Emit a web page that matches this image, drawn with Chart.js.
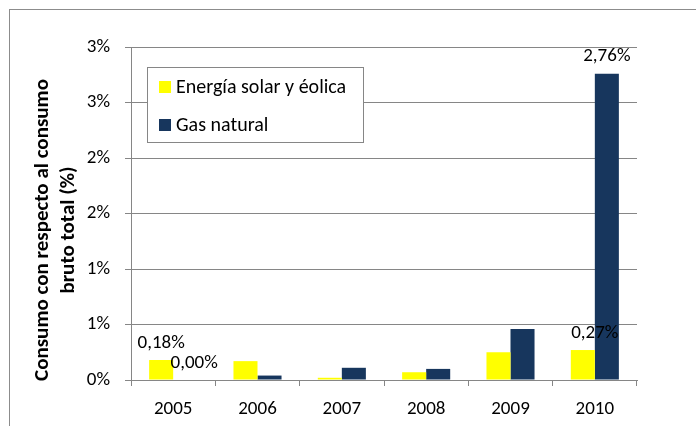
<!DOCTYPE html>
<html>
<head>
<meta charset="utf-8">
<script src="https://cdn.jsdelivr.net/npm/chart.js@4.4.0/dist/chart.umd.min.js"></script>
<style>
  html, body { margin: 0; padding: 0; background: #fff; overflow: hidden; }
  #marco { position: absolute; left: 9px; top: 9px; width: 720px; height: 440px; border: 1px solid #8c8c8c; }
  #grafico { position: absolute; left: 0; top: 0; }
</style>
</head>
<body>
<div id="marco"></div>
<canvas id="grafico" width="696" height="426"></canvas>
<script>
const anos = ["2005", "2006", "2007", "2008", "2009", "2010"];
const solarEolica = [0.18, 0.17, 0.02, 0.07, 0.25, 0.27];
const gasNatural = [0.00, 0.04, 0.11, 0.10, 0.46, 2.76];
const nombresSeries = ["Energía solar y éolica", "Gas natural"];
const ticksY = [0, 0.5, 1, 1.5, 2, 2.5, 3];
const tituloY = ["Consumo con respecto al consumo", "bruto total (%)"];
// etiquetas visibles: [serie, indice]
const etiquetas = [[0, 0], [1, 0], [0, 5], [1, 5]];

const fuente = "Carlito, 'Liberation Sans', Arial, sans-serif";
const gris = "#868686";

function formatoPct(v) {
    return v.toFixed(2).replace(".", ",") + "%";
}

const extras = {
    id: "extras",
    afterDatasetsDraw(chart) {
        const ctx = chart.ctx;
        // etiquetas de datos
        const desplaz = { "0,0": 0, "1,0": 9, "0,5": 12, "1,5": 0 };
        ctx.save();
        ctx.font = "19px " + fuente;
        ctx.fillStyle = "#000";
        ctx.textAlign = "center";
        ctx.textBaseline = "middle";
        etiquetas.forEach(([s, i]) => {
            const barra = chart.getDatasetMeta(s).data[i];
            const v = chart.data.datasets[s].data[i];
            ctx.fillText(formatoPct(v), barra.x + desplaz[s + "," + i], barra.y - 17);
        });

        // leyenda
        const lx = 147, ly = 67, lw = 216, lh = 75;
        ctx.fillStyle = "#fff";
        ctx.fillRect(lx, ly, lw, lh);
        ctx.strokeStyle = gris;
        ctx.lineWidth = 1;
        ctx.strokeRect(lx + 0.5, ly + 0.5, lw, lh);
        ctx.textAlign = "left";
        ctx.font = "20px " + fuente;
        chart.data.datasets.forEach((ds, k) => {
            const y = ly + 20 + k * 38;
            ctx.fillStyle = ds.backgroundColor;
            ctx.fillRect(lx + 12, y - 6, 12, 12);
            ctx.fillStyle = "#000";
            ctx.fillText(ds.label, lx + 29, y + 1);
        });

        // titulo eje Y
        ctx.font = "bold 21px " + fuente;
        ctx.textAlign = "center";
        ctx.textBaseline = "alphabetic";
        ctx.translate(0, 230);
        ctx.rotate(-Math.PI / 2);
        ctx.fillText(tituloY[0], 0, 48);
        ctx.fillText(tituloY[1], 0, 74);
        ctx.restore();
    }
};

new Chart(document.getElementById("grafico"), {
    type: "bar",
    data: {
        labels: anos,
        datasets: [{
            label: nombresSeries[0],
            data: solarEolica,
            backgroundColor: "#ffff00",
            borderWidth: 0,
            categoryPercentage: 0.57,
            barPercentage: 1
        }, {
            label: nombresSeries[1],
            data: gasNatural,
            backgroundColor: "#17365d",
            borderWidth: 0,
            categoryPercentage: 0.57,
            barPercentage: 1
        }]
    },
    options: {
        responsive: false,
        animation: false,
        layout: { padding: { top: 47, right: 59, bottom: 0, left: 0 } },
        plugins: {
            legend: { display: false },
            tooltip: { enabled: false }
        },
        scales: {
            x: {
                grid: { drawOnChartArea: false, color: gris, tickLength: 6, offset: true },
                border: { color: gris },
                ticks: { color: "#000", font: { family: fuente, size: 19 }, padding: 12 },
                afterFit: (s) => { s.height = 46; }
            },
            y: {
                min: 0,
                max: 3,
                afterBuildTicks: (s) => { s.ticks = ticksY.map(v => ({ value: v })); },
                grid: { color: gris, tickLength: 6 },
                border: { color: gris },
                ticks: {
                    color: "#000",
                    font: { family: fuente, size: 19 },
                    padding: 15,
                    callback: (v) => Math.round(v) + "%"
                },
                afterFit: (s) => { s.width = 131; }
            }
        }
    },
    plugins: [extras]
});
</script>
</body>
</html>
